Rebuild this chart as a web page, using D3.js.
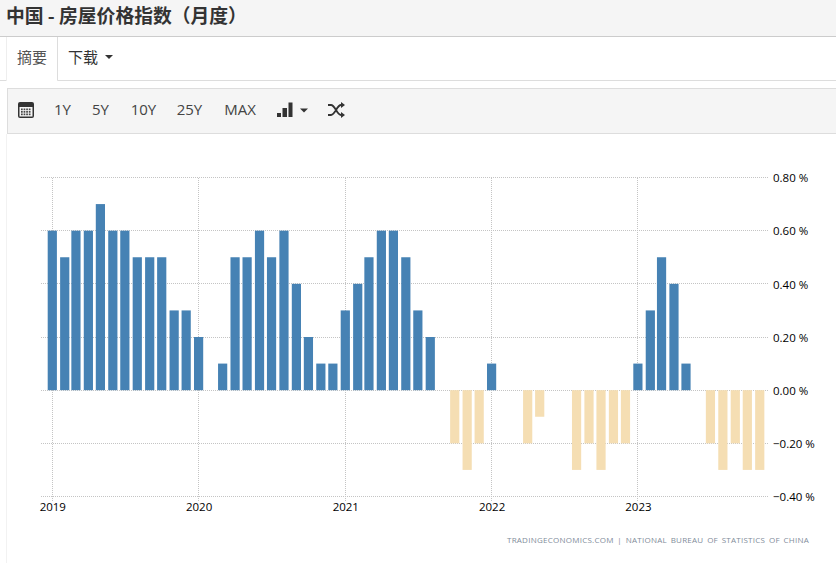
<!DOCTYPE html>
<html>
<head>
<meta charset="utf-8">
<script src="https://cdn.jsdelivr.net/npm/d3@7"></script>
<style>
html, body { margin: 0; padding: 0; background: #fff; overflow: hidden; }
svg { display: block; }
.ui { font-family: "Open Sans", sans-serif; fill: #333; }
.cjk { font-family: "Noto Sans CJK SC", sans-serif; }
.tick text { font-family: "Open Sans", sans-serif; font-size: 11.5px; fill: #000; }
</style>
</head>
<body>
<div id="chart"></div>
<script>
const startYear = 2019
const startMonth = 0
// monthly change, Jan 2019 - Nov 2023
const values = [
  0.6, 0.5, 0.6, 0.6, 0.7, 0.6, 0.6, 0.5, 0.5, 0.5, 0.3, 0.3,
  0.2, 0, 0.1, 0.5, 0.5, 0.6, 0.5, 0.6, 0.4, 0.2, 0.1, 0.1,
  0.3, 0.4, 0.5, 0.6, 0.6, 0.5, 0.3, 0.2, 0, -0.2, -0.3, -0.2,
  0.1, 0, 0, -0.2, -0.1, 0, 0, -0.3, -0.2, -0.3, -0.2, -0.2,
  0.1, 0.3, 0.5, 0.4, 0.1, 0, -0.2, -0.3, -0.2, -0.3, -0.3
]
const yTicks = [0.8, 0.6, 0.4, 0.2, 0, -0.2, -0.4]
const yearTicks = [2019, 2020, 2021, 2022, 2023]
const rangeButtons = ["1Y", "5Y", "10Y", "25Y", "MAX"]
const rangeButtonX = [62.5, 100.5, 143.5, 189.5, 240]

const w = 836, h = 563

const svg = d3.select("#chart").append("svg")
    .attr("width", w)
    .attr("height", h)

// title bar
svg.append("rect").attr("width", w).attr("height", 36.5).attr("fill", "#f5f5f5")
svg.append("line").attr("x1", 0).attr("x2", w).attr("y1", 36.5).attr("y2", 36.5).attr("stroke", "#ccc")
svg.append("text").attr("class", "cjk")
    .attr("x", 6).attr("y", 23)
    .style("font-size", "18.8px").style("font-weight", 700).style("fill", "#333")
    .text("中国 - 房屋价格指数（月度）")

// tabs
svg.append("path")
    .attr("d", "M0,80.5H7M57.5,37V80.5H836")
    .attr("fill", "none").attr("stroke", "#ddd")
svg.append("line").attr("x1", 6.5).attr("x2", 6.5).attr("y1", 37).attr("y2", 81).attr("stroke", "#eee")
svg.append("text").attr("class", "ui cjk").attr("x", 17).attr("y", 62.5)
    .style("font-size", "15px").style("fill", "#555").text("摘要")
svg.append("text").attr("class", "ui cjk").attr("x", 68).attr("y", 62.5)
    .style("font-size", "15px").text("下载")
svg.append("path").attr("d", "M105,55h8l-4,4z").attr("fill", "#333")

// toolbar
svg.append("rect")
    .attr("x", 7.5).attr("y", 88.5).attr("width", w).attr("height", 45)
    .attr("fill", "#f5f5f5").attr("stroke", "#ddd")
svg.append("line").attr("x1", 6.5).attr("x2", 6.5).attr("y1", 134).attr("y2", h).attr("stroke", "#f2f2f2")

// calendar icon
const cal = svg.append("g").attr("transform", "translate(18,102)")
cal.append("rect").attr("width", 16).attr("height", 16).attr("rx", 2).attr("fill", "#333")
cal.append("rect").attr("x", 1.5).attr("y", 5).attr("width", 13).attr("height", 9.5).attr("fill", "#f5f5f5")
d3.range(12).forEach(function(i) {
    cal.append("rect")
        .attr("x", 3 + (i % 4) * 2.6).attr("y", 6.5 + Math.floor(i / 4) * 2.5)
        .attr("width", 1.7).attr("height", 1.7).attr("fill", "#444")
})

svg.selectAll("text.range")
    .data(rangeButtons)
    .enter().append("text")
    .attr("class", "range ui")
    .attr("x", function(d, i) { return rangeButtonX[i] })
    .attr("y", 115)
    .attr("text-anchor", "middle")
    .style("font-size", "15px")
    .style("fill", "#444")
    .text(function(d) { return d })

// bar type icon
svg.append("path").attr("d", "M277,113h4v4h-4zM282.5,108h4.5v9h-4.5zM288.5,102.5h4v14.5h-4z").attr("fill", "#333")
svg.append("path").attr("d", "M300,108.5h8l-4,4z").attr("fill", "#333")

// shuffle icon
svg.append("path")
    .attr("d", "M328,105h3c4,0,6,10,10,10h2M328,115h3c4,0,6,-10,10,-10h2")
    .attr("fill", "none").attr("stroke", "#333").attr("stroke-width", 1.8)
svg.append("path").attr("d", "M341,102l4,3l-4,3zM341,112l4,3l-4,3z").attr("fill", "#333")

// chart
const x = d3.scaleTime()
    .domain([new Date(2019, 0, 1), new Date(2023, 0, 1)])
    .range([52.3, 637.9])

const y = d3.scaleLinear()
    .domain([0.8, -0.4])
    .range([177.5, 496.5])

const gridRight = 769
const gridLeft = 41

// snap to the pixel grid so the dots stay crisp
const snap = function(v) { return Math.floor(v) + 0.5 }

const plot = svg.append("g")

// horizontal grid
plot.append("g")
    .selectAll("line")
    .data(yTicks)
    .enter().append("line")
    .attr("x1", gridLeft)
    .attr("x2", gridRight)
    .attr("y1", function(d) { return snap(y(d)) })
    .attr("y2", function(d) { return snap(y(d)) })
    .attr("stroke", "#c4c4c4")
    .attr("stroke-dasharray", "1,1")

// vertical grid
plot.append("g")
    .selectAll("line")
    .data(yearTicks)
    .enter().append("line")
    .attr("x1", function(d) { return snap(x(new Date(d, 0, 1))) })
    .attr("x2", function(d) { return snap(x(new Date(d, 0, 1))) })
    .attr("y1", 178)
    .attr("y2", 502)
    .attr("stroke", "#c4c4c4")
    .attr("stroke-dasharray", "1,1")

// Show the bars
const barWidth = 9.2
plot.append("g")
    .selectAll("rect")
    .data(values)
    .enter().append("rect")
    .attr("x", function(d, i) { return x(new Date(startYear, startMonth + i, 1)) - barWidth / 2 })
    .attr("y", function(d) { return y(Math.max(d, 0)) })
    .attr("width", barWidth)
    .attr("height", function(d) { return Math.abs(y(d) - y(0)) })
    .attr("fill", function(d) { return d >= 0 ? "#4682b4" : "#f5deb3" })

// axes
const yAxis = svg.append("g")
    .attr("transform", "translate(767,0.6)")
    .call(d3.axisRight(y).tickValues(yTicks).tickSize(0).tickPadding(6)
        .tickFormat(function(d) { return d3.format(".2f")(d) + " %" }))
yAxis.select(".domain").remove()

const xAxis = svg.append("g")
    .attr("transform", "translate(0," + y(-0.4) + ")")
    .call(d3.axisBottom(x)
        .tickValues(yearTicks.map(function(d) { return new Date(d, 0, 1) }))
        .tickSize(0).tickPadding(6)
        .tickFormat(d3.timeFormat("%Y")))
xAxis.select(".domain").remove()

// source
svg.append("text")
    .attr("x", 809).attr("y", 543)
    .attr("text-anchor", "end")
    .style("font-family", "'Open Sans', sans-serif")
    .style("font-size", "8px")
    .style("letter-spacing", "0.25px")
    .style("word-spacing", "1.4px")
    .style("fill", "#7f8c9a")
    .text("TRADINGECONOMICS.COM  |  NATIONAL BUREAU OF STATISTICS OF CHINA")
</script>
</body>
</html>
